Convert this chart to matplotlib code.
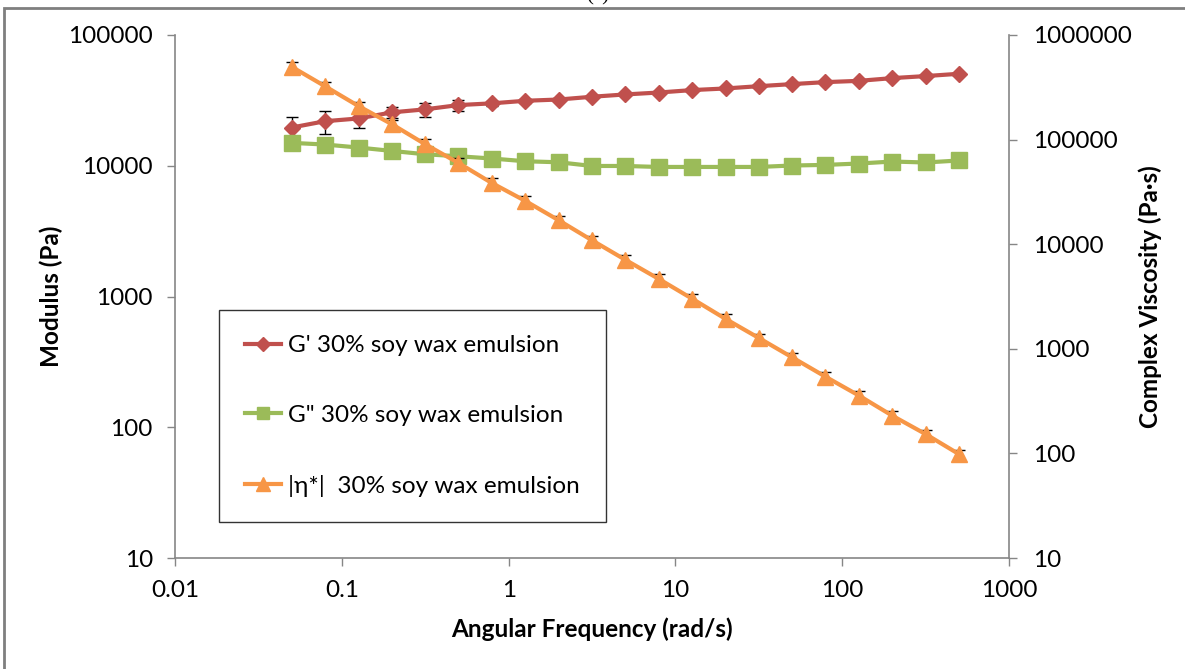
import numpy as np
import matplotlib
matplotlib.use('Agg')
import matplotlib.pyplot as plt
from matplotlib.patches import Rectangle
from matplotlib.lines import Line2D

plt.rcParams['font.family'] = ['Lato', 'DejaVu Sans']

# angular frequency sweep (rad/s)
freq = [0.05, 0.0792, 0.126, 0.2, 0.316, 0.5, 0.792, 1.26, 2, 3.16, 5, 7.92,
        12.6, 20, 31.6, 50, 79.2, 126, 200, 316, 500]

# storage modulus G' (Pa) and its std dev
g_prime = [19600, 21900, 23000, 25600, 27000, 29100, 30000, 31400, 32100, 33700,
           35100, 36300, 37900, 39000, 40600, 42100, 43600, 44600, 46800, 48500, 50500]
g_prime_err = [4000, 4300, 3500, 2300, 3300, 2700, 1500, 1000, 800, 700, 600,
               600, 500, 500, 500, 500, 500, 500, 500, 500, 500]

# loss modulus G'' (Pa)
g_double = [14960, 14530, 13780, 12980, 12240, 11820, 11360, 10820, 10630, 9960,
            9960, 9790, 9790, 9790, 9790, 10040, 10150, 10400, 10770, 10590, 10970]
g_double_err = [300, 300, 300, 300, 250, 250, 250, 200, 200, 200, 200,
                200, 200, 200, 200, 200, 200, 200, 200, 200, 200]

# complex viscosity |eta*| (Pa.s)
eta = [497000, 324000, 209000, 140000, 90300, 59800, 38500, 25900, 16900, 10900,
       7100, 4670, 3010, 1930, 1270, 830, 542, 357, 229, 153, 98.6]
eta_err = [55000, 35000, 22000, 15000, 10000, 6500, 4200, 2800, 1800, 1200, 750,
           500, 320, 200, 130, 90, 58, 38, 25, 16, 10]

labels = ["G' 30% soy wax emulsion", 'G" 30% soy wax emulsion',
          '|η*|  30% soy wax emulsion']

x_ticks = [0.01, 0.1, 1, 10, 100, 1000]
x_ticklabels = ['0.01', '0.1', '1', '10', '100', '1000']
y1_ticks = [10, 100, 1000, 10000, 100000]
y1_ticklabels = ['10', '100', '1000', '10000', '100000']
y2_ticks = [10, 100, 1000, 10000, 100000, 1000000]
y2_ticklabels = ['10', '100', '1000', '10000', '100000', '1000000']

red = '#C0504D'
green = '#9BBB59'
orange = '#F79646'
axis_grey = '#868686'
fs = 17.5

fig = plt.figure(figsize=(11.85, 6.69), dpi=100)
ax = fig.add_axes([0.1477, 0.1659, 0.7038, 0.7818])
ax2 = ax.twinx()

ax.set_xscale('log')
ax.set_yscale('log')
ax2.set_yscale('log')

ax.errorbar(freq, g_prime, yerr=g_prime_err, color=red, lw=3, marker='D',
            ms=8, mec=red, ecolor='black', elinewidth=1, capsize=4.5, capthick=1)
ax.errorbar(freq, g_double, yerr=g_double_err, color=green, lw=3, marker='s',
            ms=11, mec=green, ecolor='black', elinewidth=1, capsize=4.5, capthick=1)
ax2.errorbar(freq, eta, yerr=eta_err, color=orange, lw=3, marker='^',
             ms=12, mec=orange, ecolor='black', elinewidth=1, capsize=4.5, capthick=1)

ax.set_xlim(0.01, 1000)
ax.set_ylim(10, 100000)
ax2.set_ylim(10, 1000000)

ax.set_xticks(x_ticks)
ax.set_xticklabels(x_ticklabels)
ax.set_yticks(y1_ticks)
ax.set_yticklabels(y1_ticklabels)
ax2.set_yticks(y2_ticks)
ax2.set_yticklabels(y2_ticklabels)
ax.minorticks_off()
ax2.minorticks_off()

for a in (ax, ax2):
    a.spines['top'].set_visible(False)
    for s in ('left', 'right', 'bottom'):
        a.spines[s].set_color(axis_grey)
        a.spines[s].set_linewidth(1.2)
ax.spines['right'].set_visible(False)
ax2.spines['left'].set_visible(False)
ax2.spines['bottom'].set_visible(False)

ax.tick_params(axis='both', direction='out', length=6, width=1, color=axis_grey,
               labelsize=fs, pad=10)
ax2.tick_params(axis='y', direction='out', length=6, width=1, color=axis_grey,
                labelsize=fs, pad=11)

ax.set_xlabel('Angular Frequency (rad/s)', fontsize=fs, fontweight='bold', labelpad=12)
ax.set_ylabel('Modulus (Pa)', fontsize=fs, fontweight='bold', labelpad=3.5)
ax2.set_ylabel('Complex Viscosity (Pa·s)', fontsize=fs, fontweight='bold', labelpad=5)

# legend shows only line + marker
handles = [Line2D([], [], color=red, lw=3, marker='D', ms=7, mec=red),
           Line2D([], [], color=green, lw=3, marker='s', ms=9, mec=green),
           Line2D([], [], color=orange, lw=3, marker='^', ms=10, mec=orange)]
leg = ax2.legend(handles, labels, loc='lower left',
                 bbox_to_anchor=(0.0528, 0.0688), borderaxespad=0,
                 fontsize=fs, frameon=True, fancybox=False, borderpad=1.05,
                 labelspacing=2.0, handlelength=1.5, handletextpad=0.3)
leg.get_frame().set_edgecolor('black')
leg.get_frame().set_linewidth(1)

# outer frame and panel tag
fig.patches.append(Rectangle((4 / 1185, -0.1), 1.2, 1.1 - 8 / 669,
                             transform=fig.transFigure, fill=False,
                             edgecolor='#7f7f7f', lw=2))
fig.text(0.504, 1 - 5 / 669, '(a)', ha='center', va='bottom', fontsize=15,
         family='Liberation Serif')

fig.savefig('out.png', dpi=100)
